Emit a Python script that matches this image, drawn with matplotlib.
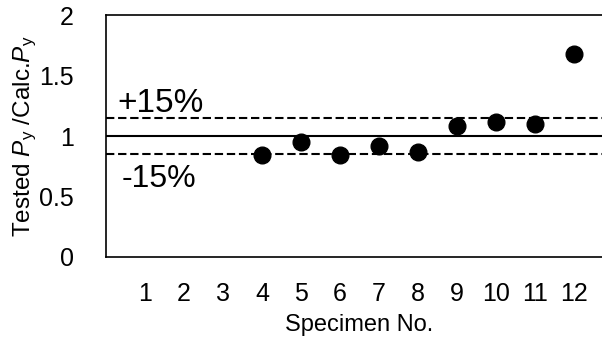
import matplotlib
matplotlib.use('Agg')
import matplotlib.pyplot as plt

plt.rcParams['font.family'] = ['Liberation Sans', 'DejaVu Sans']
plt.rcParams['mathtext.fontset'] = 'custom'
plt.rcParams['mathtext.it'] = 'Liberation Sans:italic'
plt.rcParams['mathtext.rm'] = 'Liberation Sans'

# specimen numbers and measured/calculated ratio
specimens = [1, 2, 3, 4, 5, 6, 7, 8, 9, 10, 11, 12]
tested_ids = [4, 5, 6, 7, 8, 9, 10, 11, 12]
ratio = [0.84, 0.95, 0.84, 0.92, 0.87, 1.085, 1.115, 1.10, 1.68]
upper, mean, lower = 1.15, 1.0, 0.85

fig = plt.figure(figsize=(6.02, 3.44), dpi=100)
ax = fig.add_axes([0.176, 0.253, 0.842, 0.703])

ax.axhline(mean, color='black', lw=1.5)
ax.axhline(upper, color='black', lw=1.5, ls=(0, (4, 1.8)))
ax.axhline(lower, color='black', lw=1.5, ls=(0, (4, 1.8)))
ax.plot(tested_ids, ratio, 'o', color='black', ms=12, zorder=3)

ax.text(0.3, 1.2, '+15%', fontsize=24)
ax.text(0.4, 0.765, '-15%', fontsize=23, va='top')

ax.set_xlim(0, 13)
ax.set_ylim(0, 2)
ax.set_xticks(specimens)
ax.set_yticks([0, 0.5, 1, 1.5, 2])
ax.set_yticklabels(['0', '0.5', '1', '1.5', '2'])
ax.tick_params(length=0, labelsize=18)
ax.tick_params(axis='y', pad=23)
ax.tick_params(axis='x', pad=18)
for s in ax.spines.values():
    s.set_linewidth(1.2)

ax.set_xlabel('Specimen No.', fontsize=17, labelpad=6)
ax.set_ylabel('Tested $P_{\\mathrm{y}}$ /Calc.$P_{\\mathrm{y}}$', fontsize=17.5, labelpad=0)

fig.savefig('out.png', dpi=100)
